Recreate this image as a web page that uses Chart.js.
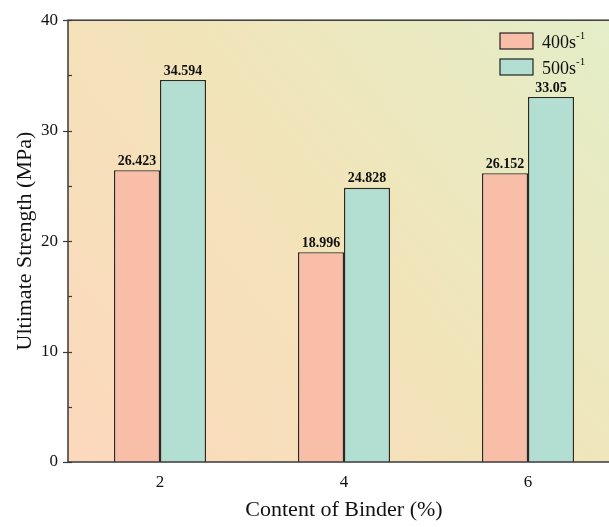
<!DOCTYPE html>
<html>
<head>
<meta charset="utf-8">
<script src="https://cdn.jsdelivr.net/npm/chart.js@4.4.0/dist/chart.umd.min.js"></script>
<style>
  html, body { margin: 0; padding: 0; background: #fff; overflow: hidden; }
  #wrap { width: 622px; height: 527px; position: relative; }
</style>
</head>
<body>
<div id="wrap"><canvas id="binderChart"></canvas></div>
<script>
// values
var binderLabels = ['2', '4', '6'];
var rate400 = [26.423, 18.996, 26.152];
var rate500 = [34.594, 24.828, 33.05];
var rate400Text = ['26.423', '18.996', '26.152'];
var rate500Text = ['34.594', '24.828', '33.05'];
var yTicks = [0, 10, 20, 30, 40];
var yMinorTicks = [5, 15, 25, 35];

var serif = "'Liberation Serif', 'Times New Roman', serif";

// gradient background + frame behind the bars
var bgPlugin = {
    id: 'bgPlugin',
    beforeDatasetsDraw: function (chart) {
        var ctx = chart.ctx, a = chart.chartArea;
        var g = ctx.createLinearGradient(a.left, a.bottom, a.right, a.top);
        g.addColorStop(0, '#fdd8bd');
        g.addColorStop(0.5, '#f2e4b9');
        g.addColorStop(1, '#e3eec8');
        ctx.save();
        ctx.fillStyle = g;
        ctx.fillRect(a.left, a.top, a.right - a.left, a.bottom - a.top);
        ctx.restore();
    },
    afterDatasetsDraw: function (chart) {
        var ctx = chart.ctx, a = chart.chartArea;
        var y = chart.scales.y;
        ctx.save();
        // frame
        ctx.strokeStyle = '#3a3a3a';
        ctx.lineWidth = 1.5;
        ctx.strokeRect(a.left, a.top, a.right - a.left, a.bottom - a.top);
        // minor ticks, pointing inward
        ctx.lineWidth = 1.2;
        yMinorTicks.forEach(function (v) {
            var py = Math.round(y.getPixelForValue(v)) + 0.5;
            ctx.beginPath();
            ctx.moveTo(a.left, py);
            ctx.lineTo(a.left + 4, py);
            ctx.stroke();
        });
        // major ticks, crossing the axis
        yTicks.forEach(function (v) {
            var py = Math.round(y.getPixelForValue(v)) + 0.5;
            ctx.beginPath();
            ctx.moveTo(a.left - 5, py);
            ctx.lineTo(a.left + 4, py);
            ctx.stroke();
        });

        // value labels on top of bars
        ctx.fillStyle = '#111';
        ctx.font = 'bold 14px ' + serif;
        ctx.textAlign = 'center';
        ctx.textBaseline = 'bottom';
        var texts = [rate400Text, rate500Text];
        chart.data.datasets.forEach(function (ds, i) {
            chart.getDatasetMeta(i).data.forEach(function (bar, j) {
                ctx.fillText(texts[i][j], bar.x, bar.y - 2);
            });
        });

        // legend inside the plot, top right
        var items = chart.data.datasets;
        var lx = 500, ly = 33;
        items.forEach(function (ds, i) {
            var by = ly + i * 26;
            ctx.fillStyle = ds.backgroundColor;
            ctx.fillRect(lx, by, 33, 16);
            ctx.strokeStyle = '#222';
            ctx.lineWidth = 1.2;
            ctx.strokeRect(lx, by, 33, 16);
            ctx.fillStyle = '#111';
            ctx.textAlign = 'left';
            ctx.textBaseline = 'alphabetic';
            ctx.font = '18px ' + serif;
            var base = ds.label.replace('s⁻¹', 's');
            ctx.fillText(base, lx + 42, by + 15);
            var w = ctx.measureText(base).width;
            ctx.font = '11px ' + serif;
            ctx.fillText('-1', lx + 42 + w, by + 6);
        });
        ctx.restore();
    }
};

new Chart(document.getElementById('binderChart'), {
    type: 'bar',
    data: {
        labels: binderLabels,
        datasets: [{
            label: '400s⁻¹',
            data: rate400,
            backgroundColor: '#f9bea8',
            borderColor: '#2a2a2a',
            borderWidth: 1.4,
            borderSkipped: 'bottom'
        }, {
            label: '500s⁻¹',
            data: rate500,
            backgroundColor: '#b3ded2',
            borderColor: '#2a2a2a',
            borderWidth: 1.4,
            borderSkipped: 'bottom'
        }]
    },
    options: {
        responsive: true,
        maintainAspectRatio: false,
        animation: false,
        layout: { padding: { top: 18, right: 2, left: 8, bottom: 0 } },
        categoryPercentage: 0.5,
        barPercentage: 1.0,
        plugins: {
            legend: { display: false },
            tooltip: { enabled: false }
        },
        scales: {
            x: {
                grid: { display: false, drawTicks: false },
                border: { display: false },
                ticks: {
                    color: '#111',
                    font: { family: serif, size: 17 },
                    padding: 10
                },
                title: {
                    display: true,
                    text: 'Content of Binder (%)',
                    color: '#111',
                    font: { family: serif, size: 22 },
                    padding: { top: 12 }
                },
                afterFit: function (s) { s.height = 65; }
            },
            y: {
                min: 0,
                max: 40,
                afterBuildTicks: function (s) {
                    s.ticks = yTicks.map(function (v) { return { value: v }; });
                },
                grid: { display: false, drawTicks: false },
                border: { display: false },
                ticks: {
                    color: '#111',
                    font: { family: serif, size: 17 },
                    padding: 10
                },
                title: {
                    display: true,
                    text: 'Ultimate Strength (MPa)',
                    color: '#111',
                    font: { family: serif, size: 22 },
                    padding: { bottom: 4 }
                },
                afterFit: function (s) { s.width = 60; }
            }
        }
    },
    plugins: [bgPlugin]
});
</script>
</body>
</html>
